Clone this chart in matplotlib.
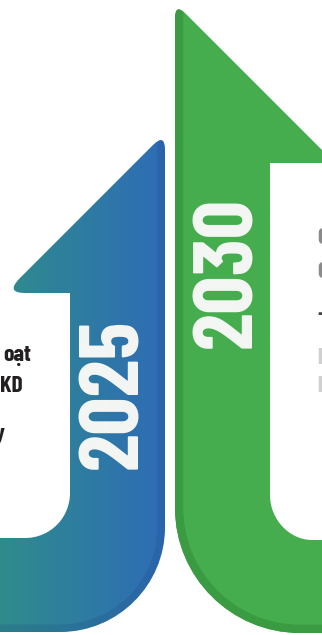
import matplotlib
matplotlib.use("Agg")
import matplotlib.pyplot as plt
import numpy as np
from matplotlib.path import Path
from matplotlib.patches import PathPatch
from matplotlib.colors import LinearSegmentedColormap

# content of the infographic
YEARS = ["2025", "2030"]
LEFT_LINES = ["oạt", "KD", "y"]
RIGHT_LINES = ["C", "C", "-", "l", "l"]

BLUE_LEFT = "#2e8c8c"
BLUE_RIGHT = "#2f6cb6"
GREEN = "#46ad4e"
GREEN_DARK = "#3b9b43"

FONT = ["Barlow Condensed", "DejaVu Sans"]

M, L, C3, C4, CL = Path.MOVETO, Path.LINETO, Path.CURVE3, Path.CURVE4, Path.CLOSEPOLY


def blue_arrow():
    verts = [(-10, 632), (60, 632), (118, 632), (165, 585), (165, 527),
             (165, 150), (165, 133), (153, 145),
             (20, 278), (5, 293), (25, 293),
             (70, 293), (70, 493), (70, 518), (50, 538), (25, 538),
             (-10, 538), (-10, 632)]
    codes = [M, L, C4, C4, C4,
             L, C3, C3,
             L, C3, C3,
             L, L, C4, C4, C4,
             L, CL]
    return Path(verts, codes)


def blue_edge():
    verts = [(-10, 632), (60, 632), (118, 632), (165, 585), (165, 527), (165, 140)]
    codes = [M, L, C4, C4, C4, L]
    return Path(verts, codes)


def green_arrow():
    verts = [(340, 633), (300, 633), (231, 633), (175, 577), (175, 508),
             (175, 18), (175, 3), (186, 14),
             (322, 150), (335, 163), (320, 163),
             (270, 163), (270, 495), (270, 520), (290, 540), (312, 540),
             (340, 540), (340, 633)]
    codes = [M, L, C4, C4, C4,
             L, C3, C3,
             L, C3, C3,
             L, L, C4, C4, C4,
             L, CL]
    return Path(verts, codes)


def green_edge():
    verts = [(340, 633), (300, 633), (231, 633), (175, 577), (175, 508), (175, 5)]
    codes = [M, L, C4, C4, C4, L]
    return Path(verts, codes)


fig = plt.figure(figsize=(3.22, 6.35), dpi=100)
ax = fig.add_axes([0, 0, 1, 1])
ax.axis("off")

# blue arrow with horizontal gradient
blue = PathPatch(blue_arrow(), facecolor="none", edgecolor="none")
ax.add_patch(blue)
cmap = LinearSegmentedColormap.from_list("blue", [BLUE_LEFT, BLUE_RIGHT])
grad = np.linspace(0, 1, 256).reshape(1, -1)
img = ax.imshow(grad, cmap=cmap, extent=(0, 166, 640, 130), aspect="auto", zorder=1)
img.set_clip_path(blue)
edge = PathPatch(blue_edge(), facecolor="none", edgecolor="#1d3f7a", alpha=0.18,
                 linewidth=11, zorder=2)
ax.add_patch(edge)
edge.set_clip_path(blue)

# green arrow
green = PathPatch(green_arrow(), facecolor=GREEN, edgecolor="none", zorder=1)
ax.add_patch(green)
gedge = PathPatch(green_edge(), facecolor="none", edgecolor=GREEN_DARK,
                  linewidth=12, zorder=2)
ax.add_patch(gedge)
gedge.set_clip_path(green)

# year labels
ax.text(116, 394, YEARS[0], rotation=90, ha="center", va="center", fontsize=61,
        fontweight="bold", fontstretch="condensed", color="#f5f7f4", family=FONT, zorder=3)
ax.text(230, 272, YEARS[1], rotation=90, ha="center", va="center", fontsize=61,
        fontweight="bold", fontstretch="condensed", color="#f5f7f4", family=FONT, zorder=3)

# cut-off paragraph text on both sides
left_x = [31, 23, 5]
left_y = [361, 392, 440]
for s, x, y in zip(LEFT_LINES, left_x, left_y):
    ax.text(x, y, s, ha="right", va="baseline", fontsize=17,
            fontweight="bold", fontstretch="condensed", color="#231f20", family=FONT)

right_y = [244, 278, 320, 364, 392]
right_c = ["#8a8a8a", "#8a8a8a", "#444444", "#d0d0d0", "#d0d0d0"]
for s, y, c in zip(RIGHT_LINES, right_y, right_c):
    ax.text(317, y, s, ha="left", va="baseline", fontsize=17,
            fontweight="bold", fontstretch="condensed", color=c, family=FONT)

ax.set_xlim(0, 322)
ax.set_ylim(635, 0)

fig.savefig("out.png", dpi=100, facecolor="white")
